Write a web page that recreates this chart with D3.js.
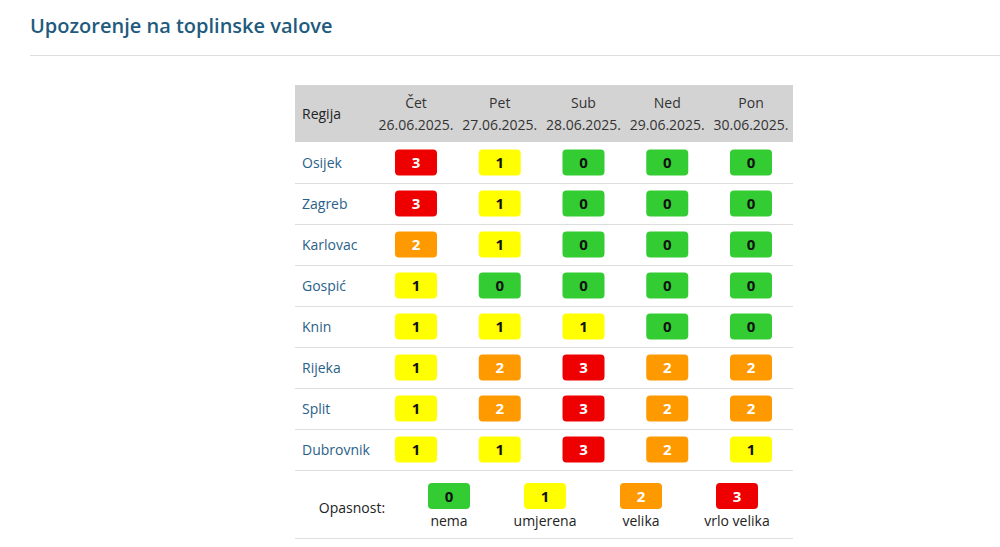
<!DOCTYPE html>
<html><head><meta charset="utf-8">
<script src="https://cdn.jsdelivr.net/npm/d3@7"></script>
<style>body{margin:0;background:#fff;font-family:"Open Sans","Noto Sans",sans-serif;}</style>
</head><body><svg id="chart" width="1000" height="547"></svg>
<script>
// days and regions
var days = ["Čet", "Pet", "Sub", "Ned", "Pon"];
var dates = ["26.06.2025.", "27.06.2025.", "28.06.2025.", "29.06.2025.", "30.06.2025."];
var regions = ["Osijek", "Zagreb", "Karlovac", "Gospić", "Knin", "Rijeka", "Split", "Dubrovnik"];
var levels = [
  [3, 1, 0, 0, 0],
  [3, 1, 0, 0, 0],
  [2, 1, 0, 0, 0],
  [1, 0, 0, 0, 0],
  [1, 1, 1, 0, 0],
  [1, 2, 3, 2, 2],
  [1, 2, 3, 2, 2],
  [1, 1, 3, 2, 1]
];
var legendLabels = ["nema", "umjerena", "velika", "vrlo velika"];
var levelColors = ["#33cc33", "#ffff00", "#ff9900", "#ee0000"];
var levelText = ["#111", "#111", "#fff", "#fff"];

var svg = d3.select("#chart");

svg.append("text").attr("x", 30).attr("y", 33).attr("fill", "#1f5b7d")
  .attr("font-size", 20).attr("font-weight", 600).text("Upozorenje na toplinske valove");
svg.append("line").attr("x1", 30).attr("x2", 1000).attr("y1", 55.5).attr("y2", 55.5)
  .attr("stroke", "#ddd");

var left = 295, right = 793;
var x = d3.scalePoint().domain(d3.range(days.length)).range([416, 751]);
var y = d3.scaleBand().domain(d3.range(regions.length)).range([142, 470]);

// header
svg.append("rect").attr("x", left).attr("y", 85).attr("width", right - left).attr("height", 57).attr("fill", "#d3d3d3");
svg.append("text").attr("x", 302).attr("y", 119).attr("font-size", 14).attr("fill", "#222").text("Regija");
days.forEach(function (d, i) {
  svg.append("text").attr("x", x(i)).attr("y", 108).attr("text-anchor", "middle")
    .attr("font-size", 14).attr("fill", "#333").text(d);
  svg.append("text").attr("x", x(i)).attr("y", 130).attr("text-anchor", "middle")
    .attr("font-size", 14).attr("fill", "#333").text(dates[i]);
});

function badge(cx, cy, v) {
  svg.append("rect").attr("x", cx - 21).attr("y", cy - 13).attr("width", 42).attr("height", 26)
    .attr("rx", 4).attr("fill", levelColors[v]);
  svg.append("text").attr("x", cx).attr("y", cy + 5.5).attr("text-anchor", "middle")
    .attr("font-size", 15).attr("font-weight", 700).attr("fill", levelText[v]).text(v);
}

regions.forEach(function (r, ri) {
  var cy = y(ri) + y.bandwidth() / 2;
  svg.append("text").attr("x", 302).attr("y", cy + 5).attr("font-size", 14).attr("fill", "#2a6188").text(r);
  levels[ri].forEach(function (v, ci) { badge(x(ci), cy, v); });
  svg.append("line").attr("x1", left).attr("x2", right).attr("y1", y(ri) + y.bandwidth() + 0.5)
    .attr("y2", y(ri) + y.bandwidth() + 0.5).attr("stroke", "#ddd");
});

// legend
var lx = d3.scalePoint().domain(d3.range(legendLabels.length)).range([449, 737]);
svg.append("text").attr("x", 352).attr("y", 513).attr("text-anchor", "middle").attr("font-size", 14).attr("fill", "#222").text("Opasnost:");
legendLabels.forEach(function (l, i) {
  badge(lx(i), 496, i);
  svg.append("text").attr("x", lx(i)).attr("y", 526).attr("text-anchor", "middle")
    .attr("font-size", 14).attr("fill", "#222").text(l);
});
svg.append("line").attr("x1", left).attr("x2", right).attr("y1", 538.5).attr("y2", 538.5).attr("stroke", "#ddd");
</script></body></html>
